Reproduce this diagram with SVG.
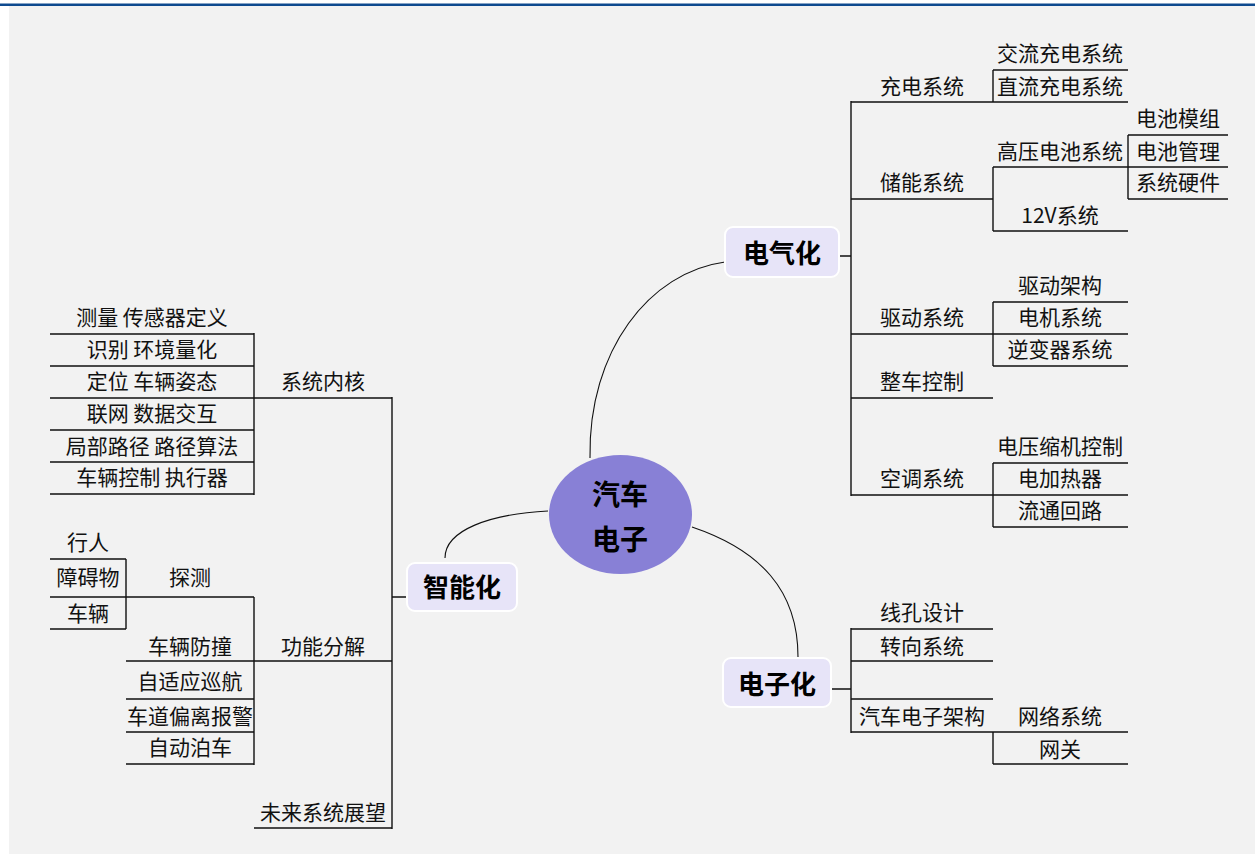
<svg xmlns="http://www.w3.org/2000/svg" width="1255" height="854" viewBox="0 0 1255 854">
<style>
.t{font-family:"Noto Sans CJK SC","Liberation Sans",sans-serif;font-size:21px;fill:#111;text-anchor:middle}
.b{font-family:"Noto Sans CJK SC","Liberation Sans",sans-serif;font-weight:bold;fill:#000;text-anchor:middle}
.l{stroke:#111;stroke-width:1.4;fill:none}
.c{stroke:#111;stroke-width:1.1;fill:none}
.box{fill:#e7e4f8;stroke:#fff;stroke-width:2}
</style>
<rect x="0" y="0" width="1255" height="854" fill="#fff"/>
<rect x="9" y="6" width="1246" height="848" fill="#f2f2f2"/>
<rect x="0" y="3.5" width="1255" height="2.5" fill="#0e4a8f"/>

<g id="connectors">
<path class="c" d="M590,458 C588,350 650,272 725,262"/>
<path class="c" d="M548,511 C490,514 445,530 445,558"/>
<path class="c" d="M692,527 C760,550 798,590 798,657"/>
<!-- electrical -->
<path class="l" d="M839,256 H851 M851,101 V496 M851,102 H993 M851,199 H993 M851,334 H993 M851,398 H993 M851,495 H993"/>
<path class="l" d="M993,70 V102 M993,70 H1128 M993,102 H1128"/>
<path class="l" d="M993,167 V231 M993,167 H1128 M993,231 H1128"/>
<path class="l" d="M1128,135 V199 M1128,135 H1228 M1128,167 H1228 M1128,199 H1228"/>
<path class="l" d="M993,302 V366 M993,302 H1128 M993,334 H1128 M993,366 H1128"/>
<path class="l" d="M993,463 V527 M993,463 H1128 M993,495 H1128 M993,527 H1128"/>
<!-- intelligent -->
<path class="l" d="M407,597 H392 M392,397 V829 M254,398 H392 M254,661 H392 M254,828 H392"/>
<path class="l" d="M254,333 V495 M50,334 H254 M50,366 H254 M50,398 H254 M50,430 H254 M50,462 H254 M50,494 H254"/>
<path class="l" d="M254,597 V765 M126,597 H254 M126,661 H254 M126,699 H254 M126,732 H254 M126,764 H254"/>
<path class="l" d="M126,559 V629 M50,559 H126 M50,597 H126 M50,629 H126"/>
<!-- electronic -->
<path class="l" d="M831,689 H851 M851,628 V733 M851,629 H993 M851,661 H993 M851,699 H993 M851,732 H1128"/>
<path class="l" d="M993,732 V764 M993,764 H1128"/>
</g>

<g id="center">
<ellipse cx="620.5" cy="514.5" rx="71.5" ry="59.5" fill="#8880d6"/>
<text class="b" font-size="28" x="620" y="505">汽车</text>
<text class="b" font-size="28" x="620" y="550">电子</text>
</g>

<g id="electrification">
<rect class="box" x="725" y="227" width="114" height="50" rx="8"/>
<text class="b" font-size="26" x="782" y="263">电气化</text>
</g>
<g id="intelligence">
<rect class="box" x="407" y="563" width="110" height="48" rx="8"/>
<text class="b" font-size="26" x="462" y="597">智能化</text>
</g>
<g id="electronics">
<rect class="box" x="723" y="658" width="108" height="49" rx="8"/>
<text class="b" font-size="26" x="777" y="694">电子化</text>
</g>

<g id="e-charging"><text class="t" x="922" y="94">充电系统</text></g>
<g id="e-ac"><text class="t" x="1060" y="61">交流充电系统</text></g>
<g id="e-dc"><text class="t" x="1060" y="94">直流充电系统</text></g>
<g id="e-storage"><text class="t" x="922" y="190">储能系统</text></g>
<g id="e-hv"><text class="t" x="1060" y="159">高压电池系统</text></g>
<g id="e-module"><text class="t" x="1178" y="126">电池模组</text></g>
<g id="e-bms"><text class="t" x="1178" y="159">电池管理</text></g>
<g id="e-hw"><text class="t" x="1178" y="190">系统硬件</text></g>
<g id="e-12v"><text class="t" x="1060" y="223">12V系统</text></g>
<g id="e-drive"><text class="t" x="922" y="325">驱动系统</text></g>
<g id="e-arch"><text class="t" x="1060" y="293">驱动架构</text></g>
<g id="e-motor"><text class="t" x="1060" y="325">电机系统</text></g>
<g id="e-inv"><text class="t" x="1060" y="357">逆变器系统</text></g>
<g id="e-vcu"><text class="t" x="922" y="389">整车控制</text></g>
<g id="e-ac2"><text class="t" x="922" y="486">空调系统</text></g>
<g id="e-comp"><text class="t" x="1060" y="454">电压缩机控制</text></g>
<g id="e-heater"><text class="t" x="1060" y="486">电加热器</text></g>
<g id="e-loop"><text class="t" x="1060" y="518">流通回路</text></g>

<g id="i-core"><text class="t" x="323" y="389">系统内核</text></g>
<g id="i-c1"><text class="t" x="152" y="325">测量 传感器定义</text></g>
<g id="i-c2"><text class="t" x="152" y="357">识别 环境量化</text></g>
<g id="i-c3"><text class="t" x="152" y="389">定位 车辆姿态</text></g>
<g id="i-c4"><text class="t" x="152" y="421">联网 数据交互</text></g>
<g id="i-c5"><text class="t" x="152" y="454">局部路径 路径算法</text></g>
<g id="i-c6"><text class="t" x="152" y="485">车辆控制 执行器</text></g>
<g id="i-func"><text class="t" x="323" y="654">功能分解</text></g>
<g id="i-detect"><text class="t" x="190" y="585">探测</text></g>
<g id="i-ped"><text class="t" x="88" y="550">行人</text></g>
<g id="i-obs"><text class="t" x="88" y="585">障碍物</text></g>
<g id="i-veh"><text class="t" x="88" y="621">车辆</text></g>
<g id="i-aeb"><text class="t" x="190" y="654">车辆防撞</text></g>
<g id="i-acc"><text class="t" x="190" y="689">自适应巡航</text></g>
<g id="i-ldw"><text class="t" x="190" y="724">车道偏离报警</text></g>
<g id="i-park"><text class="t" x="190" y="755">自动泊车</text></g>
<g id="i-future"><text class="t" x="323" y="820">未来系统展望</text></g>

<g id="n-hole"><text class="t" x="922" y="620">线孔设计</text></g>
<g id="n-steer"><text class="t" x="922" y="654">转向系统</text></g>
<g id="n-empty"></g>
<g id="n-arch"><text class="t" x="922" y="724">汽车电子架构</text></g>
<g id="n-net"><text class="t" x="1060" y="724">网络系统</text></g>
<g id="n-gw"><text class="t" x="1060" y="757">网关</text></g>
</svg>
